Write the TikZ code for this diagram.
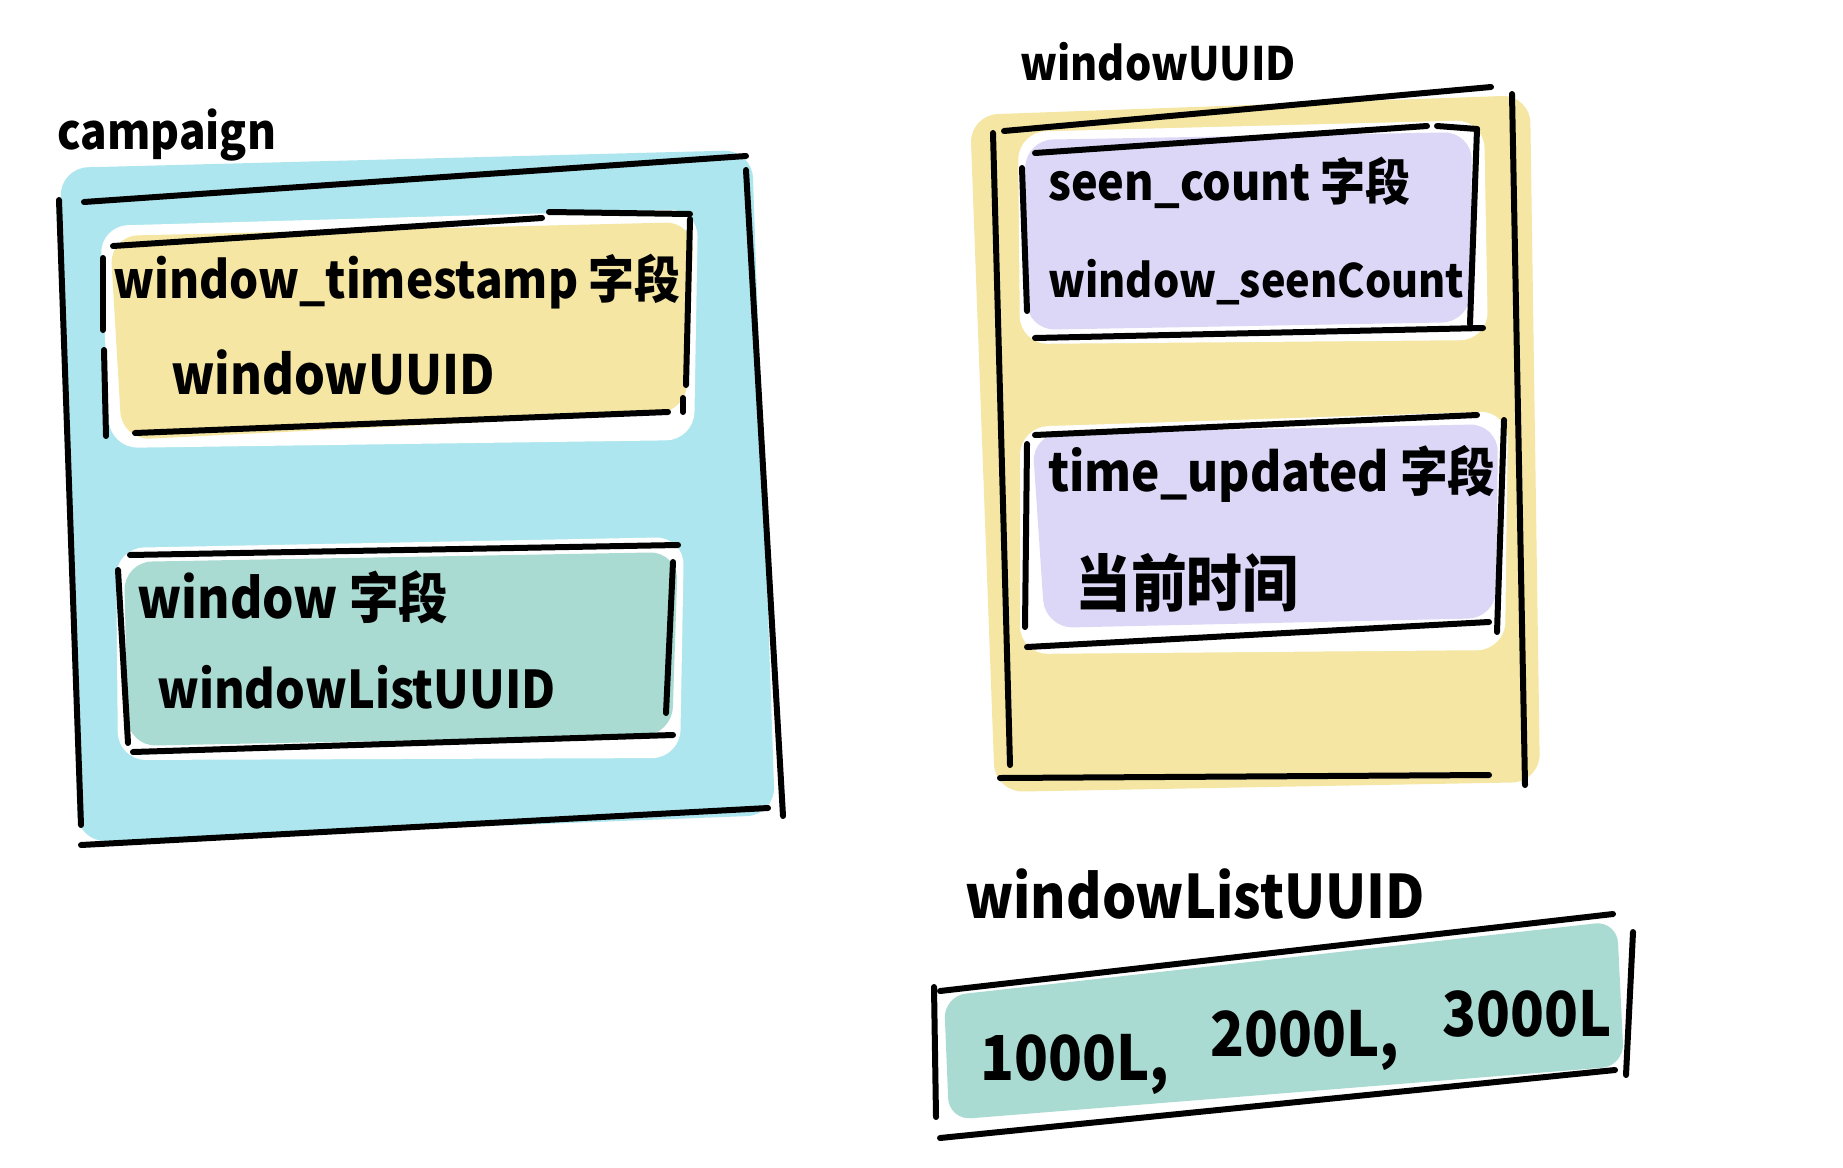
\documentclass[tikz,border=0pt]{standalone}
\usepackage{fontspec}
\setmainfont{Noto Sans CJK SC}[FakeStretch=0.9]
\definecolor{bluefill}{HTML}{ADE6EE}
\definecolor{yelfill}{HTML}{F5E6A4}
\definecolor{grnfill}{HTML}{AADBD2}
\definecolor{purfill}{HTML}{DCD7F7}
\tikzset{
  pen/.style={line width=6pt, line cap=round, black},
  blob/.style={rounded corners=28pt},
  txt/.style={anchor=west, inner sep=0pt, font=\bfseries\fontsize{#1}{#1}\selectfont},
}
\begin{document}
\begin{tikzpicture}[x=1pt,y=-1pt]
\useasboundingbox (0,0) rectangle (1843,1167);
\fill[white] (0,0) rectangle (1843,1167);

% ---------- campaign ----------
\fill[bluefill,blob] (60,168) -- (752,150) -- (775,815) -- (78,842) -- cycle;
\fill[white,blob] (100,226) -- (698,209) -- (694,440) -- (110,448) -- cycle;
\fill[white,blob] (116,548) -- (684,537) -- (680,758) -- (118,760) -- cycle;
\fill[yelfill,blob] (110,236) -- (694,222) -- (686,412) -- (122,440) -- cycle;
\fill[grnfill,blob] (124,562) -- (678,552) -- (672,735) -- (128,746) -- cycle;

\draw[pen] (84,202) -- (746,156);
\draw[pen] (59,200) -- (81,825);
\draw[pen] (746,170) -- (783,816);
\draw[pen] (81,845) -- (768,808);

\draw[pen] (113,246) -- (542,218);
\draw[pen] (549,212) -- (690,214);
\draw[pen] (103,258) -- (103,330);
\draw[pen] (104,350) -- (106,436);
\draw[pen] (690,219) -- (686,385);
\draw[pen] (683,398) -- (683,412);
\draw[pen] (135,433) -- (668,412);

\draw[pen] (130,555) -- (678,545);
\draw[pen] (118,570) -- (128,743);
\draw[pen] (673,562) -- (666,713);
\draw[pen] (133,752) -- (673,735);

\node[txt=49] (campaign) at (57,135) {campaign};
\node[txt=51] (cts) at (113,282) {window\_timestamp 字段};
\node[txt=54] (cuuid) at (171,372) {windowUUID};
\node[txt=55] (cw) at (137,597) {window 字段};
\node[txt=52] (cwl) at (157,687) {windowListUUID};

% ---------- windowUUID ----------
\fill[yelfill,blob] (970,115) -- (1530,95) -- (1540,782) -- (995,792) -- cycle;
\fill[white,blob] (1018,132) -- (1484,120) -- (1488,340) -- (1020,344) -- cycle;
\fill[white,blob] (1020,427) -- (1508,411) -- (1505,650) -- (1020,654) -- cycle;
\fill[purfill,blob] (1025,140) -- (1472,132) -- (1470,322) -- (1027,330) -- cycle;
\fill[purfill,blob] (1032,434) -- (1498,424) -- (1496,618) -- (1045,628) -- cycle;

\draw[pen] (1004,131) -- (1491,87);
\draw[pen] (993,133) -- (1010,765);
\draw[pen] (1512,94) -- (1525,785);
\draw[pen] (1000,778) -- (1489,775);

\draw[pen] (1035,153) -- (1427,126);
\draw[pen] (1437,126) -- (1477,129);
\draw[pen] (1022,168) -- (1027,311);
\draw[pen] (1477,129) -- (1470,324);
\draw[pen] (1035,338) -- (1483,328);

\draw[pen] (1035,435) -- (1477,415);
\draw[pen] (1027,444) -- (1025,627);
\draw[pen] (1504,420) -- (1497,632);
\draw[pen] (1027,647) -- (1489,622);

\node[txt=46] (wulabel) at (1020,62) {windowUUID};
\node[txt=50] (seen) at (1048,183) {seen\_count 字段};
\node[txt=46] (seenv) at (1048,282) {window\_seenCount};
\node[txt=53] (tu) at (1048,474) {time\_updated 字段};
\node[txt=62] (now) at (1075,583) {当前时间};

% ---------- windowListUUID ----------
\fill[grnfill,rounded corners=22pt] (944,996) -- (1617,921) -- (1624,1066) -- (949,1120) -- cycle;
\draw[pen] (940,991) -- (1613,914);
\draw[pen] (934,987) -- (936,1117);
\draw[pen] (1633,932) -- (1626,1075);
\draw[pen] (940,1138) -- (1615,1070);

\node[txt=60] (wllabel) at (965,894) {windowListUUID};
\node[txt=62] (v1) at (980,1064) {1000L,};
\node[txt=62] (v2) at (1210,1040) {2000L,};
\node[txt=62] (v3) at (1442,1014) {3000L};
\end{tikzpicture}
\end{document}
